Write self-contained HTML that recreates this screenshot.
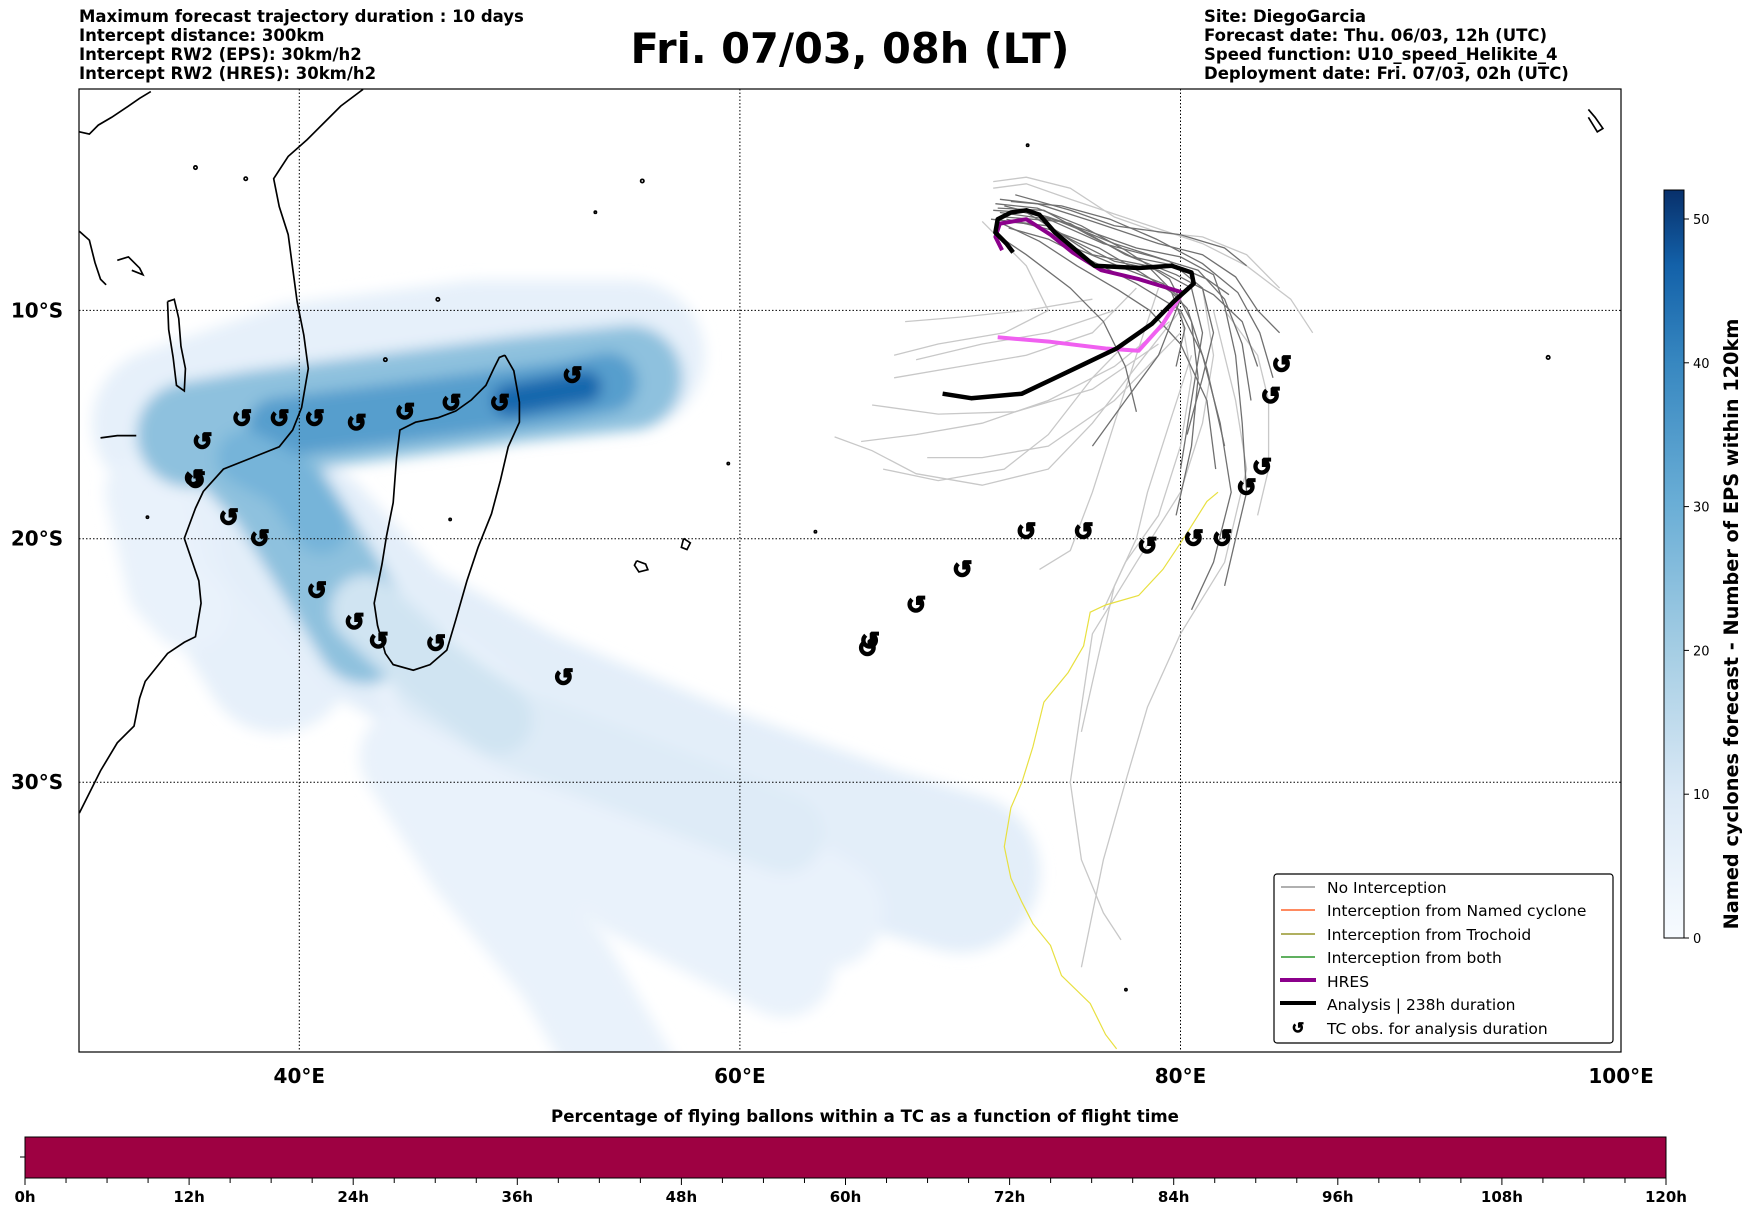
<!DOCTYPE html>
<html><head><meta charset="utf-8"><style>
html,body{margin:0;padding:0;background:#fff;}
svg{display:block;font-family:"DejaVu Sans","Liberation Sans",sans-serif;}
</style></head><body>
<svg id="fig" width="1752" height="1213" viewBox="0 0 1752 1213" xmlns="http://www.w3.org/2000/svg">
<defs>
<filter id="blur" x="-20%" y="-20%" width="140%" height="140%"><feGaussianBlur stdDeviation="7"/></filter>
<clipPath id="mapclip"><rect x="79" y="89" width="1542" height="963"/></clipPath>
<linearGradient id="blues" x1="0" y1="1" x2="0" y2="0">
<stop offset="0" stop-color="#f7fbff"/><stop offset="0.19" stop-color="#dbe9f6"/><stop offset="0.38" stop-color="#a6cee4"/><stop offset="0.58" stop-color="#6aaed6"/><stop offset="0.77" stop-color="#3787c0"/><stop offset="0.9" stop-color="#1361a9"/><stop offset="1" stop-color="#08306b"/>
</linearGradient>
</defs>
<g font-size="16.5" font-weight="bold">
<text x="79" y="22">Maximum forecast trajectory duration : 10 days</text>
<text x="79" y="41">Intercept distance: 300km</text>
<text x="79" y="60">Intercept RW2 (EPS):  30km/h2</text>
<text x="79" y="79">Intercept RW2 (HRES): 30km/h2</text>
</g>
<text x="850" y="63" font-size="41.5" font-weight="bold" text-anchor="middle">Fri. 07/03, 08h (LT)</text>
<g font-size="16.5" font-weight="bold">
<text x="1204" y="22">Site: DiegoGarcia</text>
<text x="1204" y="41">Forecast date: Thu. 06/03, 12h (UTC)</text>
<text x="1204" y="60">Speed function: U10_speed_Helikite_4</text>
<text x="1204" y="79">Deployment date: Fri. 07/03, 02h (UTC)</text>
</g>
<g id="map" clip-path="url(#mapclip)">
<g id="density" filter="url(#blur)"></g>
<g id="coast" fill="none" stroke="#000" stroke-width="1.5" transform="scale(1.117)">
<polyline points="71,728 90,690 105,665 120,650 125,625 130,610 150,585 165,575 175,570 180,540 178,520 165,482 175,455 182,440 200,420 225,410 250,400 262,385 270,365 276,330 272,300 266,270 262,240 258,210 250,185 245,160 258,140 275,125 290,110 305,95 325,80"/>
<polyline points="452,318 460,332 465,360 465,378 455,400 448,430 440,460 428,490 418,520 408,555 400,582 385,595 370,600 352,595 345,585 338,560 335,540 342,505 346,480 352,450 355,410 358,385 372,378 392,374 408,368 422,358 435,345 442,330 447,320 452,318"/>
<polyline points="150,270 156,268 160,285 162,310 166,330 165,350 158,345 155,320 151,295 150,270"/>
<polyline points="71,207 80,215 85,235 90,250 95,255"/>
<polyline points="71,118 80,120 88,112 100,105 115,95 125,88 135,82"/>
<polyline points="105,233 115,230 125,240 128,246 118,242"/>
<polyline points="90,392 105,390 122,390"/>
<polyline points="570,502 578,505 580,510 572,512 568,506 570,502"/>
<polyline points="612,482 618,486 615,492 610,490 612,482"/>
<polyline points="1422,98 1428,105 1435,115 1430,118 1422,105"/>
<circle cx="1386" cy="320" r="1.5"/><circle cx="1008" cy="886" r="1"/><circle cx="392" cy="268" r="1.5"/><circle cx="345" cy="322" r="1.5"/><circle cx="652" cy="415" r="1"/><circle cx="730" cy="476" r="1"/><circle cx="575" cy="162" r="1.5"/><circle cx="533" cy="190" r="1"/><circle cx="220" cy="160" r="1.5"/><circle cx="175" cy="150" r="1.5"/><circle cx="132" cy="463" r="1"/><circle cx="403" cy="465" r="1"/><circle cx="920" cy="130" r="1"/>
</g>
<g id="grid" stroke="#000" stroke-width="1" stroke-dasharray="1.5,2"></g>
<g id="trajs" fill="none"></g>
<g id="tcobs"></g>
</g>
<rect x="79" y="89" width="1542" height="963" fill="none" stroke="#000" stroke-width="1.2"/>
<g id="axlabels" font-size="20" font-weight="bold"></g>
<g>
<rect x="1274" y="874" width="339" height="169" rx="3" fill="#fff" stroke="#000" stroke-width="1.2"/>
<g font-size="15.5">
<line x1="1281" y1="887" x2="1315" y2="887" stroke="#808080" stroke-width="1.2"/><text x="1327" y="893">No Interception</text>
<line x1="1281" y1="910" x2="1315" y2="910" stroke="#ff4500" stroke-width="1.2"/><text x="1327" y="916">Interception from Named cyclone</text>
<line x1="1281" y1="934" x2="1315" y2="934" stroke="#808000" stroke-width="1.2"/><text x="1327" y="940">Interception from Trochoid</text>
<line x1="1281" y1="957" x2="1315" y2="957" stroke="#008000" stroke-width="1.2"/><text x="1327" y="963">Interception from both</text>
<line x1="1280" y1="980" x2="1316" y2="980" stroke="#8b008b" stroke-width="4"/><text x="1327" y="987">HRES</text>
<line x1="1280" y1="1003" x2="1316" y2="1003" stroke="#000" stroke-width="4"/><text x="1327" y="1010">Analysis | 238h duration</text>
<text x="1298" y="1033" font-size="15" font-weight="bold" text-anchor="middle" stroke="#000" stroke-width="0.8">↺</text><text x="1327" y="1034">TC obs. for analysis duration</text>
</g></g>
<g id="cbar">
<rect x="1664" y="190" width="20" height="748" fill="url(#blues)" stroke="#000" stroke-width="1"/>
</g>
<text transform="translate(1738,624) rotate(-90)" font-size="19.3" font-weight="bold" text-anchor="middle">Named cyclones forecast - Number of EPS within 120km</text>
<text x="865" y="1122" font-size="16.6" font-weight="bold" text-anchor="middle">Percentage of flying ballons within a TC as a function of flight time</text>
<g id="tbar">
<rect x="25" y="1137" width="1641" height="41" fill="#9e0142" stroke="#000" stroke-width="1"/>
<line x1="20" y1="1157" x2="25" y2="1157" stroke="#000"/>
</g>
</svg>
<script>
const tcLon=[52.4,49.1,46.9,44.8,42.6,40.7,39.1,37.4,35.6,35.2,35.3,36.8,38.2,40.8,42.5,43.6,46.2,52.0,65.9,65.8,68.0,70.1,73.0,75.6,78.5,80.6,81.9,83.0,83.7,84.1,84.6];
const tcLat=[12.9,14.1,14.1,14.5,15.0,14.8,14.8,14.8,15.8,17.4,17.5,19.1,20.0,22.2,23.5,24.3,24.4,25.8,24.3,24.6,22.8,21.3,19.7,19.7,20.3,20.0,20.0,17.8,16.9,13.8,12.4];
const analysisTrack=[[72.4,7.4],[72.1,7.0],[71.6,6.5],[71.7,5.9],[72.3,5.6],[73.0,5.5],[73.6,5.7],[74.3,6.5],[76.1,8.0],[78.1,8.1],[79.6,8.0],[80.5,8.3],[80.6,8.8],[79.7,9.6],[78.7,10.6],[77.1,11.7],[75.6,12.4],[74.1,13.1],[72.8,13.7],[70.5,13.9],[69.2,13.7]];
const hresTrack=[[71.9,7.3],[71.6,6.7],[71.8,6.1],[73.0,5.9],[74.1,6.6],[75.1,7.4],[76.4,8.2],[78.1,8.6],[80.1,9.2]];
const hresTail=[[80.1,9.2],[79.2,10.6],[78.1,11.8],[76.6,11.7],[74.1,11.4],[71.7,11.2]];
const trochoidTrack=[[81.7,18.0],[81.2,18.4],[80.2,19.9],[79.2,21.3],[78.1,22.4],[76.6,22.8],[75.9,23.1],[75.6,24.5],[74.9,25.6],[73.8,26.8],[73.3,28.6],[72.8,30.0],[72.3,31.0],[72.0,32.5],[72.3,33.7],[72.8,34.6],[73.3,35.4],[74.1,36.2],[74.6,37.3],[75.9,38.3],[76.6,39.4],[77.1,39.9]];
const darkTracks=[
[[72,5.3],[74,5.8],[76,6.5],[78,7.2],[80,7.6],[81.5,8.4],[82,9.8],[82.5,12],[82.8,15],[83,18],[82.5,20],[82,22]],
[[71.5,5.5],[73,5.6],[75,6.8],[77,7.8],[79,8.2],[80.5,9],[81,11],[80.5,14],[80,17]],
[[72,6],[74,6.2],[76,7.5],[78.5,8],[80,9.5],[79,12],[77.5,14],[76,16]],
[[71.8,5],[73.5,5.2],[76,6],[79,7],[81,7.5],[82.5,8.5],[83.5,10],[84.5,11]],
[[72.5,4.8],[75,5.5],[77,6.2],[80,6.6],[82,7.2],[83,8]],
[[71.5,6.5],[73,7.5],[75,9],[76.5,10.5],[77.5,12.5],[78,14.5]],
[[72,5.8],[74.5,6],[77,7],[79.5,7.8],[81,9],[81.5,11],[81,13],[80.3,15.5]],
[[71.8,5.6],[74,5.9],[76.5,7],[78.8,7.6],[80.8,8.2],[82,9.5],[82.8,11.5],[83.2,14]],
[[72.2,6.3],[74,6.8],[76,7.8],[78,8.8],[80,10],[81,12],[81.8,15],[82.3,18],[81.5,21],[80.5,23]],
[[71.6,5.2],[73.5,5.4],[75.5,6.2],[77.5,7.3],[79.5,8.6],[80.5,10.5],[80.8,13],[80.5,16],[79.8,19]],
[[72.5,5.5],[75,6.1],[77.5,7.5],[79.8,8.4],[81.5,9.3],[82.8,10.5],[83.5,12.5]],
[[71.7,5.4],[73.8,5.5],[75.8,6.6],[77.8,7.6],[79.8,8],[81.2,8.6],[82.2,9.3]],
[[72.1,5.9],[74.2,6.4],[76.3,7.2],[78.2,8.3],[79.6,9.2],[80.2,10.8],[79.8,12.5]],
[[71.9,6.1],[73.6,6.9],[75.3,8],[77.2,9.1],[78.6,10],[80,11.5],[81.2,14],[81.6,17]],
[[72.3,5.1],[74.6,5.3],[76.8,5.9],[78.9,6.8],[81,7.9],[82.6,9.2],[83.6,11],[84.2,13]],
[[71.4,5.9],[73.2,6.1],[75.2,7.2],[77.4,8.1],[79.2,8.8],[80.3,9.9],[81.2,12.6],[82,16]]
];
const lightTracks=[
[[71.5,4.5],[73,4.3],[75,5],[78,6],[81,7],[83,8],[85,9.5],[86,11]],
[[71,6],[73,8],[74,10],[72,11],[69,11.5],[67,12]],
[[80,10],[78,12.5],[76,15],[74,17],[71,17.7],[68,17.2],[66,16.2],[64.3,15.6]],
[[81,9],[81.5,12],[81,15],[80,18],[78,21],[76,24],[75.5,27],[75,30],[75.5,33],[76.5,35],[77.3,36]],
[[79,9],[78,12],[77,15],[76,18],[75,20.5],[73.6,21.3]],
[[80,10],[80.5,13],[80,16],[79,19],[77.5,21],[76.5,23]],
[[82,10],[83.5,12],[84,14],[84,17],[83.5,19]],
[[78,9],[76,11],[73,12],[70,12.5],[67,13]],
[[79.5,10.5],[77,12.5],[74,14],[71,15],[68,15.5],[65.5,15.8]],
[[71.5,4.2],[73,4],[75,4.5],[77,5.8],[79,6.5],[81,6.7],[83,7.5],[84.5,9]],
[[80.5,12],[79.5,15],[78.5,18],[78,20],[77,22],[76,26],[75.5,28]],
[[78,11],[76,13],[74,15.5],[72,17],[69,17.5],[66.5,17]],
[[77,10],[74,11],[71,11.5],[68,12.2]],
[[81.5,10],[82.5,14],[83,17],[82,21],[80,24],[78.5,27],[77.5,30],[76.5,33],[75.5,37]],
[[80,11],[77,14],[74,16],[71,16.5],[68.5,16.5]],
[[76,9.5],[73,10],[70,10.3],[67.5,10.5]],
[[79,11.5],[76,13.5],[72.5,14.5],[69,14.6],[66,14.2]]
];
const densVal=[6,6,7,5,5,5,5,24,24,9,34,45,28,12];
const densTracks=[
[[34,15],[40,13],[48,12],[55,12]],
[[35,17],[37,22],[39,25]],
[[40,20],[44,24],[50,27],[58,30],[66,32.5],[70,33.5]],
[[45,29],[48,33],[52,37],[55,41]],
[[46,26],[52,30],[58,32],[64,35]],
[[33,18],[34,22],[35,23]],
[[47,27],[51,31],[55,34],[62,37]],
[[35,15.5],[38,15],[42,14.5],[46,14],[50,13.5],[55,13]],
[[37,16],[39,18],[41,21],[43,24]],
[[46,26],[50,28],[56,30],[62,32]],
[[39,15.2],[44,14.6],[48,14.1],[52,13.6],[54,13.2]],
[[49.5,14],[53,13.4]],
[[37.5,16.5],[39.5,17.5],[41,19.5]],
[[43,23],[46,25.5],[49,27.5]]
];
const densWidth=[150,150,160,100,110,80,100,105,100,80,60,32,55,70];
const lonTicks=[40,60,80,100];
const latTicks=[10,20,30];
const cbTicks=[0,10,20,30,40,50];
const timeTicks=[0,12,24,36,48,60,72,84,96,108,120];

const NS='http://www.w3.org/2000/svg';
const X=lon=>79+(lon-30)*22.03;
const Y=lat=>89+1262*Math.log(Math.tan(Math.PI/4+lat*Math.PI/360));
const cbY=v=>938-v*(938-219)/50;
const tX=h=>25+h*(1641/120);
function mk(tag,attrs,parent){const e=document.createElementNS(NS,tag);for(const k in attrs)e.setAttribute(k,attrs[k]);parent.appendChild(e);return e;}
function pts(tr){return tr.map(p=>X(p[0]).toFixed(1)+','+Y(p[1]).toFixed(1)).join(' ');}
function blues(v){const st=[[0,[247,251,255]],[10,[219,233,246]],[20,[166,206,228]],[30,[106,174,214]],[40,[55,135,192]],[46,[19,97,169]],[52,[8,48,107]]];
for(let i=1;i<st.length;i++){if(v<=st[i][0]){const a=st[i-1],b=st[i],t=(v-a[0])/(b[0]-a[0]);return 'rgb('+a[1].map((c,j)=>Math.round(c+(b[1][j]-c)*t)).join(',')+')';}}return 'rgb(8,48,107)';}
const dg=document.getElementById('density');
densTracks.forEach((tr,i)=>{const e=mk('polyline',{points:pts(tr),fill:'none',stroke:blues(densVal[i]),'stroke-width':densWidth[i],'stroke-linecap':'round','stroke-linejoin':'round'},dg);

});
const gg=document.getElementById('grid');
lonTicks.forEach(l=>{const e=mk('line',{x1:X(l),x2:X(l),y1:89,y2:1052},gg);

});
latTicks.forEach(l=>{const e=mk('line',{x1:79,x2:1621,y1:Y(l),y2:Y(l)},gg);

});
const tg=document.getElementById('trajs');
lightTracks.forEach(tr=>{const e=mk('polyline',{points:pts(tr),stroke:'#c8c8c8','stroke-width':1.3},tg);

});
darkTracks.forEach(tr=>{const e=mk('polyline',{points:pts(tr),stroke:'#707070','stroke-width':1.3},tg);

});
let e1=mk('polyline',{points:pts(trochoidTrack),stroke:'#e8e040','stroke-width':1.2},tg);


let e2=mk('polyline',{points:pts(hresTail),stroke:'#f060f0','stroke-width':4,'stroke-linejoin':'round'},tg);


let e3=mk('polyline',{points:pts(hresTrack),stroke:'#8b008b','stroke-width':4,'stroke-linejoin':'round'},tg);


let e4=mk('polyline',{points:pts(analysisTrack),stroke:'#000','stroke-width':4.5,'stroke-linejoin':'round'},tg);


const og=document.getElementById('tcobs');
tcLon.forEach((lo,i)=>{const t=mk('text',{x:X(lo),y:Y(tcLat[i])+8,'font-size':24,'font-weight':'bold','text-anchor':'middle',stroke:'#000','stroke-width':1.6},og);t.textContent='↺';

});
const ag=document.getElementById('axlabels');
lonTicks.forEach(l=>{const t=mk('text',{x:X(l),y:1083,'text-anchor':'middle'},ag);t.textContent=l+'°E';

});
latTicks.forEach(l=>{const t=mk('text',{x:37,y:Y(l)+7,'text-anchor':'middle'},ag);t.textContent=l+'°S';

});
const cg=document.getElementById('cbar');
cbTicks.forEach(v=>{mk('line',{x1:1684,x2:1689,y1:cbY(v),y2:cbY(v),stroke:'#000'},cg);const t=mk('text',{x:1693,y:cbY(v)+5,'font-size':13},cg);t.textContent=v;

});
const bg=document.getElementById('tbar');
for(let h=0;h<=120;h+=3){mk('line',{x1:tX(h),x2:tX(h),y1:1178,y2:h%12===0?1185:1183,stroke:'#000'},bg);}
timeTicks.forEach(h=>{const t=mk('text',{x:tX(h),y:1202,'font-size':15,'font-weight':'bold','text-anchor':'middle'},bg);t.textContent=h+'h';

});
</script>
</body></html>
